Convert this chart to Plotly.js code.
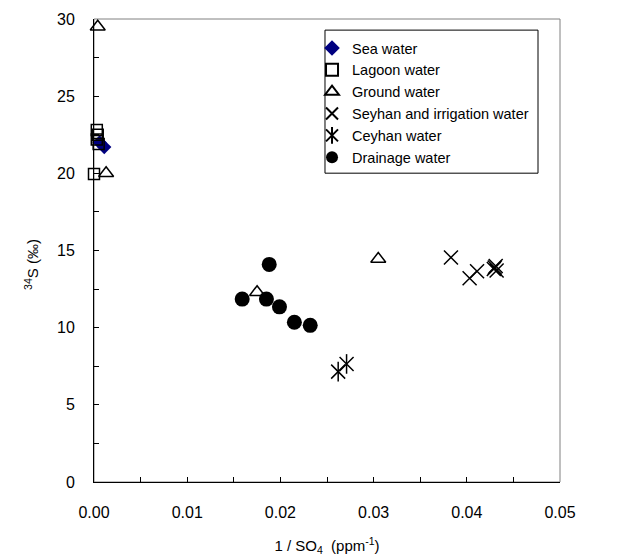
<!DOCTYPE html>
<html>
<head>
<meta charset="utf-8">
<script src="https://cdn.plot.ly/plotly-3.0.1.min.js"></script>
<style>html,body{margin:0;padding:0;background:#fff;}#chart{width:634px;height:558px;}</style>
</head>
<body>
<div id="chart"></div>
<script>
// Data: x = 1/SO4 (ppm^-1), y = δ34S (‰)
const seaX = [0.0006, 0.0011];
const seaY = [22.0, 21.7];
const lagoonX = [0.0003, 0.0004, 0.0003, 0.0005, 0.0000];
const lagoonY = [22.8, 22.5, 22.2, 21.9, 19.95];
const groundX = [0.0004, 0.0013, 0.0175, 0.0305];
const groundY = [29.5, 20.0, 12.3, 14.45];
const seyhanX = [0.0383, 0.0403, 0.0411, 0.0429, 0.0431, 0.0432, 0.0430];
const seyhanY = [14.55, 13.2, 13.65, 13.8, 14.0, 13.7, 13.9];
const ceyhanX = [0.0262, 0.0271];
const ceyhanY = [7.15, 7.65];
const drainX = [0.0159, 0.0188, 0.0185, 0.0199, 0.0215, 0.0232];
const drainY = [11.85, 14.1, 11.85, 11.35, 10.35, 10.15];
const xTicks = [0, 0.01, 0.02, 0.03, 0.04, 0.05];
const yTicks = [0, 5, 10, 15, 20, 25, 30];

const FONT = 'Liberation Sans, Arial, sans-serif';
const LFS = 14.5;
const traces = [
  {x: seaX, y: seaY, name: 'Sea water', mode: 'markers', type: 'scatter', cliponaxis: false,
   marker: {symbol: 'diamond', size: 11, color: '#000080'}},
  {x: lagoonX, y: lagoonY, name: 'Lagoon water', mode: 'markers', type: 'scatter', cliponaxis: false,
   marker: {symbol: 'square-open', size: 11, color: '#000', line: {width: 1.5, color: '#000'}}},
  {x: groundX, y: groundY, name: 'Ground water', mode: 'markers', type: 'scatter', cliponaxis: false,
   marker: {symbol: 'triangle-up-open', size: 13, color: '#000', line: {width: 1.5, color: '#000'}}},
  {x: seyhanX, y: seyhanY, name: 'Seyhan and irrigation water', mode: 'markers', type: 'scatter', cliponaxis: false,
   marker: {symbol: 'x-thin-open', size: 14, color: '#000', line: {width: 1.5, color: '#000'}}},
  {x: ceyhanX, y: ceyhanY, name: 'Ceyhan water', mode: 'markers', type: 'scatter', cliponaxis: false,
   marker: {symbol: 'x-thin-open', size: 14, color: '#000', line: {width: 1.5, color: '#000'}}},
  {x: drainX, y: drainY, name: 'Drainage water', mode: 'markers', type: 'scatter', cliponaxis: false,
   marker: {symbol: 'circle', size: 15, color: '#000'}},
  {x: ceyhanX, y: ceyhanY, name: 'Ceyhan water', mode: 'markers', type: 'scatter', cliponaxis: false, legend: 'legend2',
   marker: {symbol: 'line-ns-open', size: 14, color: '#000', line: {width: 1.5, color: '#000'}}}
];

const LEGX = 0.4657, LEGY = 0.974, ITEM = 21.85 / 463;
const layout = {
  width: 634, height: 558,
  margin: {l: 94, r: 74, t: 19, b: 76},
  paper_bgcolor: '#fff', plot_bgcolor: '#fff',
  font: {family: FONT, size: 15, color: '#000'},
  showlegend: true,
  legend: {x: LEGX, y: LEGY, xanchor: 'left', yanchor: 'top', bgcolor: 'rgba(0,0,0,0)',
           bordercolor: 'rgba(0,0,0,0)', borderwidth: 1, font: {family: FONT, size: LFS, color: '#000'},
           tracegroupgap: 0, itemsizing: 'constant', traceorder: 'normal'},
  legend2: {x: LEGX, y: LEGY - 4 * ITEM, xanchor: 'left', yanchor: 'top', bgcolor: 'rgba(0,0,0,0)',
           bordercolor: 'rgba(0,0,0,0)', borderwidth: 1, font: {family: FONT, size: LFS, color: 'rgba(0,0,0,0)'},
           itemsizing: 'constant'},
  xaxis: {range: [0, 0.05], tickvals: xTicks, tickformat: '.2f', ticks: 'inside', ticklen: 5,
          tickcolor: '#000', showline: true, linecolor: '#000', linewidth: 1, zeroline: false, showgrid: false,
          minor: {dtick: 0.005, ticks: 'inside', ticklen: 5, tickcolor: '#000'},
          ticklabelstandoff: 16,
          tickfont: {family: FONT, size: 16, color: '#000'},
          title: {text: '1 / SO<sub>4</sub>  (ppm<sup>-1</sup>)', font: {family: FONT, size: 15, color: '#000'}, standoff: 20}},
  yaxis: {range: [0, 30], tickvals: yTicks, ticks: 'inside', ticklen: 5,
          tickcolor: '#000', showline: true, linecolor: '#000', linewidth: 1, zeroline: false, showgrid: false,
          minor: {dtick: 2.5, ticks: 'inside', ticklen: 5, tickcolor: '#000'},
          ticklabelstandoff: 15,
          tickfont: {family: FONT, size: 16, color: '#000'}},
  annotations: [{xref: 'paper', yref: 'paper', x: -0.133, y: 0.469, xanchor: 'center', yanchor: 'middle',
                 textangle: -90, showarrow: false, text: '<sup>34</sup>S (‰)',
                 font: {family: FONT, size: 15, color: '#000'}}],
  shapes: [
    {type: 'rect', xref: 'paper', yref: 'paper', x0: 0, x1: 1, y0: 0, y1: 1,
     line: {color: '#808080', width: 1}, layer: 'below'},
    {type: 'rect', xref: 'paper', yref: 'paper', x0: 0.4957, x1: 0.9528, y0: 0.667, y1: 0.976,
     line: {color: '#000', width: 1}, fillcolor: '#fff', layer: 'below'}
  ]
};

Plotly.newPlot('chart', traces, layout, {displayModeBar: false, staticPlot: true});
</script>
</body>
</html>
